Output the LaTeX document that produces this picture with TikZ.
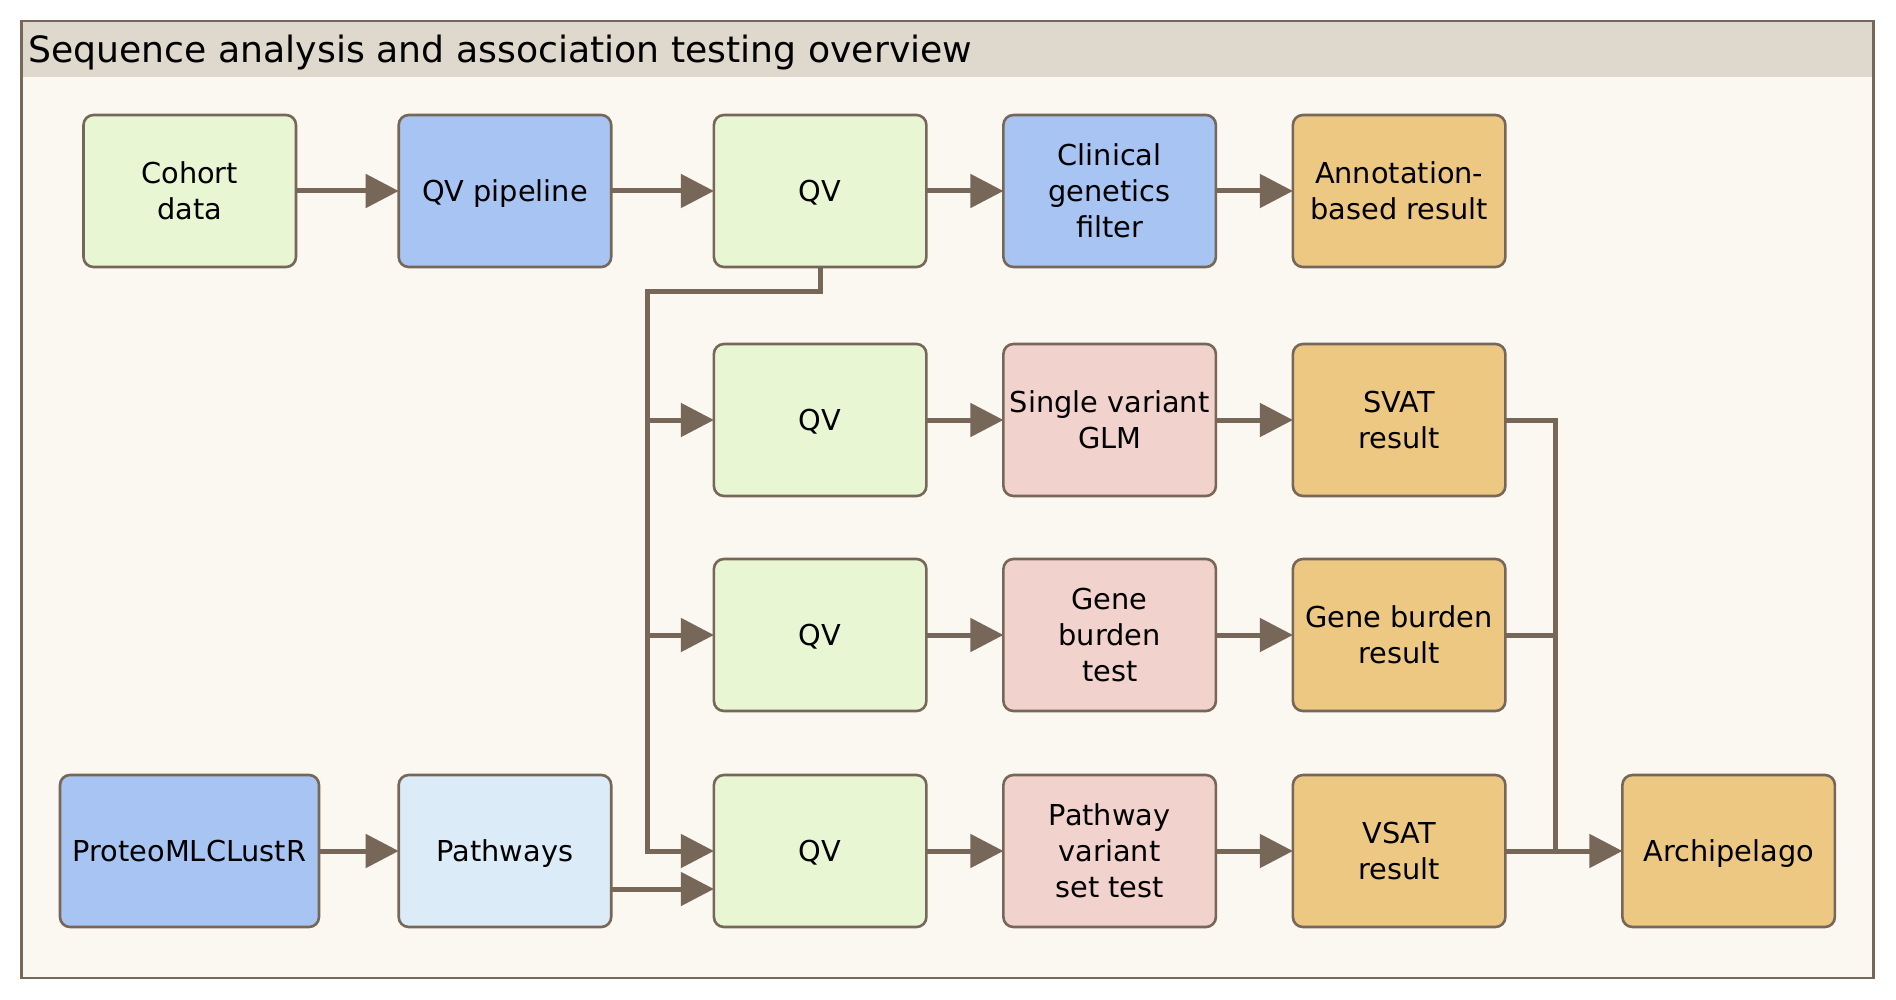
\documentclass[tikz,border=0pt]{standalone}
\usepackage{fontspec}
\setmainfont{DejaVu Sans}
\usetikzlibrary{arrows.meta}
\usetikzlibrary{positioning}
\definecolor{edgebrown}{RGB}{118,103,88}
\definecolor{panelbg}{RGB}{251,247,241}
\definecolor{bandbg}{RGB}{223,216,204}
\definecolor{datagreen}{RGB}{232,246,212}
\definecolor{toolblue}{RGB}{167,196,242}
\definecolor{paleblue}{RGB}{220,235,248}
\definecolor{testpink}{RGB}{242,210,205}
\definecolor{resultorange}{RGB}{237,200,130}
\tikzset{
  node distance= 32pt and 38.5pt,
  > = {Triangle[length=16.5pt, width=16.5pt]},
  box/.style = {rectangle,
                rounded corners = 5pt,
                draw = edgebrown,
                line width = 1.3pt,
                align = center,
                font = \fontsize{14.4}{18}\selectfont,
                minimum width = 106.25pt,
                minimum height = 76pt,
                text depth = 0pt,
                inner sep = 2pt,
                outer sep = 0pt},
  databox/.style = {box, fill = datagreen},
  toolbox/.style = {box, fill = toolblue},
  palebox/.style = {box, fill = paleblue},
  testbox/.style = {box, fill = testpink},
  resultbox/.style = {box, fill = resultorange},
  flow/.style = {draw = edgebrown, line width = 2.5pt},
  heading/.style = {font = \fontsize{18.1}{22}\selectfont, inner sep = 0pt}
}
\begin{document}
\begin{tikzpicture}[x=0.5pt, y=-0.5pt]

\useasboundingbox (0,0) rectangle (1896,1000);

% panel
\fill[panelbg] (21.5,21) rectangle (1873.5,978);
\fill[bandbg] (21.5,21) rectangle (1873.5,77);
\draw[edgebrown, line width = 1.2pt] (21.5,21) rectangle (1873.5,978);
\node[heading](title)[anchor = base west] at (28,63){Sequence analysis and association testing overview};

% top row
\node[databox](cohort) at (189.75,191){Cohort\\data};

\node[toolbox](pipeline)[right = 51.35pt of cohort]{QV pipeline}
  edge[flow, <-](cohort);

\node[databox](qv-a)[right = 51.35pt of pipeline]{QV}
  edge[flow, <-](pipeline);

\node[toolbox](clinical)[right = of qv-a]{Clinical\\genetics\\filter}
  edge[flow, <-](qv-a);

\node[resultbox](annot)[right = of clinical]{Annotation-\\based result}
  edge[flow, <-](clinical);

% single variant row
\node[databox](qv-b)[below = 38.5pt of qv-a]{QV};

\node[testbox](glm)[right = of qv-b]{Single variant\\GLM}
  edge[flow, <-](qv-b);

\node[resultbox](svat)[right = of glm]{SVAT\\result}
  edge[flow, <-](glm);

% gene burden row
\node[databox](qv-c)[below = 31.5pt of qv-b]{QV};

\node[testbox](burden-test)[right = of qv-c]{Gene\\burden\\test}
  edge[flow, <-](qv-c);

\node[resultbox](burden-res)[right = of burden-test]{Gene burden\\result}
  edge[flow, <-](burden-test);

% pathway row
\node[databox](qv-d)[below = of qv-c]{QV};

\node[testbox](pvst)[right = of qv-d]{Pathway\\variant\\set test}
  edge[flow, <-](qv-d);

\node[resultbox](vsat)[right = of pvst]{VSAT\\result}
  edge[flow, <-](pvst);

\node[resultbox](archi)[right = 58.5pt of vsat]{Archipelago}
  edge[flow, <-](vsat);

\node[palebox](pathways)[left = 51.35pt of qv-d]{Pathways};

\node[toolbox, minimum width = 129.5pt](proteo)[left = 39.85pt of pathways]{ProteoMLCLustR}
  edge[flow, ->](pathways);

\draw[flow, ->] ([yshift = -19pt]pathways.east) -- ([yshift = -19pt]qv-d.west);

% QV bus
\coordinate (bus) at (647.5,292);
\draw[flow, ->] (qv-a.south) |- (bus) |- (qv-d.west);
\draw[flow, ->] (bus |- qv-b.west) -- (qv-b.west);
\draw[flow, ->] (bus |- qv-c.west) -- (qv-c.west);

% results into Archipelago
\coordinate (merge) at (1555,0);
\draw[flow] (svat.east) -| (merge |- vsat.east);
\draw[flow] (burden-res.east) -| (merge |- vsat.east);

\end{tikzpicture}
\end{document}
